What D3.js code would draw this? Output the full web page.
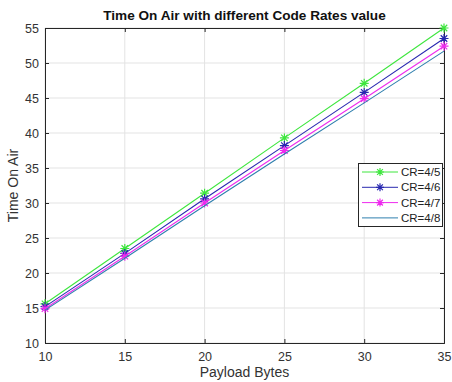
<!DOCTYPE html>
<html>
<head>
<meta charset="utf-8">
<script src="https://cdn.jsdelivr.net/npm/d3@7"></script>
<style>
  html, body { margin: 0; padding: 0; background: #fff; }
  svg { display: block; font-family: "Liberation Sans", Arial, sans-serif; }
</style>
</head>
<body>
<svg id="chart" width="452" height="382"></svg>
<script>
const payload = [10, 15, 20, 25, 30, 35];
const cr45 = [15.6, 23.5, 31.4, 39.3, 47.1, 55.0];
const cr46 = [15.2, 22.8, 30.6, 38.2, 45.8, 53.5];
const cr47 = [14.9, 22.4, 30.0, 37.5, 44.9, 52.4];
const cr48 = [14.7, 22.1, 29.6, 37.0, 44.3, 51.7];
const seriesNames = ["CR=4/5", "CR=4/6", "CR=4/7", "CR=4/8"];
const xTicks = [10, 15, 20, 25, 30, 35];
const yTicks = [10, 15, 20, 25, 30, 35, 40, 45, 50, 55];

const series = [
  { name: seriesNames[0], values: cr45, color: "#3ee63e", marker: true },
  { name: seriesNames[1], values: cr46, color: "#2828b0", marker: true },
  { name: seriesNames[2], values: cr47, color: "#ee2aee", marker: true },
  { name: seriesNames[3], values: cr48, color: "#2f7fae", marker: false }
];

const svg = d3.select("#chart");
const L = 45, R = 444, T = 28, B = 343;
const x = d3.scaleLinear().domain([10, 35]).range([L, R]);
const y = d3.scaleLinear().domain([10, 55]).range([B, T]);

// grid
const g = svg.append("g");
g.selectAll("line.gx").data(xTicks).enter().append("line")
  .attr("x1", d => x(d)).attr("x2", d => x(d)).attr("y1", T).attr("y2", B)
  .attr("stroke", "#e3e3e3").attr("stroke-width", 1);
g.selectAll("line.gy").data(yTicks).enter().append("line")
  .attr("y1", d => y(d)).attr("y2", d => y(d)).attr("x1", L).attr("x2", R)
  .attr("stroke", "#e3e3e3").attr("stroke-width", 1);

// axes
const axisColor = "#262626";
const xAxis = svg.append("g").attr("transform", `translate(0,${B})`)
  .call(d3.axisBottom(x).tickValues(xTicks).tickSize(-4).tickPadding(9));
const yAxis = svg.append("g").attr("transform", `translate(${L},0)`)
  .call(d3.axisLeft(y).tickValues(yTicks).tickSize(-4).tickPadding(6));
const xTop = svg.append("g").attr("transform", `translate(0,${T})`)
  .call(d3.axisTop(x).tickValues(xTicks).tickSize(-4).tickFormat(""));
const yRight = svg.append("g").attr("transform", `translate(${R},0)`)
  .call(d3.axisRight(y).tickValues(yTicks).tickSize(-4).tickFormat(""));
[xAxis, yAxis, xTop, yRight].forEach(a => {
  a.select(".domain").attr("stroke", axisColor).attr("stroke-width", 1);
  a.selectAll(".tick line").attr("stroke", axisColor);
  a.selectAll(".tick text").attr("fill", "#333").attr("font-size", "12.5px")
    .attr("font-family", "Liberation Sans, Arial, sans-serif");
});

// lines
const line = d3.line().x((d, i) => x(payload[i])).y(d => y(d));
const starPath = r => {
  const k = r * 0.72;
  return `M${-r},0L${r},0M0,${-r}L0,${r}M${-k},${-k}L${k},${k}M${-k},${k}L${k},${-k}`;
};
series.forEach(s => {
  svg.append("path").datum(s.values).attr("d", line)
    .attr("fill", "none").attr("stroke", s.color).attr("stroke-width", 1.1);
  if (s.marker) {
    svg.append("g").selectAll("path").data(s.values).enter().append("path")
      .attr("transform", (d, i) => `translate(${x(payload[i])},${y(d)})`)
      .attr("d", starPath(4.5)).attr("stroke", s.color).attr("stroke-width", 1.2).attr("fill", "none");
  }
});

// title & labels
svg.append("text").attr("x", (L + R) / 2).attr("y", 20).attr("text-anchor", "middle")
  .attr("font-size", "13.6px").attr("font-weight", "bold").attr("fill", "#111")
  .text("Time On Air with different Code Rates value");
svg.append("text").attr("x", (L + R) / 2).attr("y", 377).attr("text-anchor", "middle")
  .attr("font-size", "14px").attr("fill", "#333").text("Payload Bytes");
svg.append("text").attr("transform", `translate(18,${(T + B) / 2}) rotate(-90)`)
  .attr("text-anchor", "middle").attr("font-size", "14px").attr("fill", "#333").text("Time On Air");

// legend
const lg = svg.append("g");
lg.append("rect").attr("x", 358.5).attr("y", 163.5).attr("width", 84).attr("height", 63)
  .attr("fill", "#fff").attr("stroke", axisColor).attr("stroke-width", 1);
series.forEach((s, i) => {
  const yy = 172 + i * 15.3;
  lg.append("line").attr("x1", 362).attr("x2", 398).attr("y1", yy).attr("y2", yy)
    .attr("stroke", s.color).attr("stroke-width", 1);
  if (s.marker) {
    lg.append("path").attr("transform", `translate(380,${yy})`).attr("d", starPath(4))
      .attr("stroke", s.color).attr("stroke-width", 1.2).attr("fill", "none");
  }
  lg.append("text").attr("x", 401).attr("y", yy).attr("dy", "0.35em")
    .attr("font-size", "11.5px").attr("fill", "#222").text(s.name);
});
</script>
</body>
</html>
